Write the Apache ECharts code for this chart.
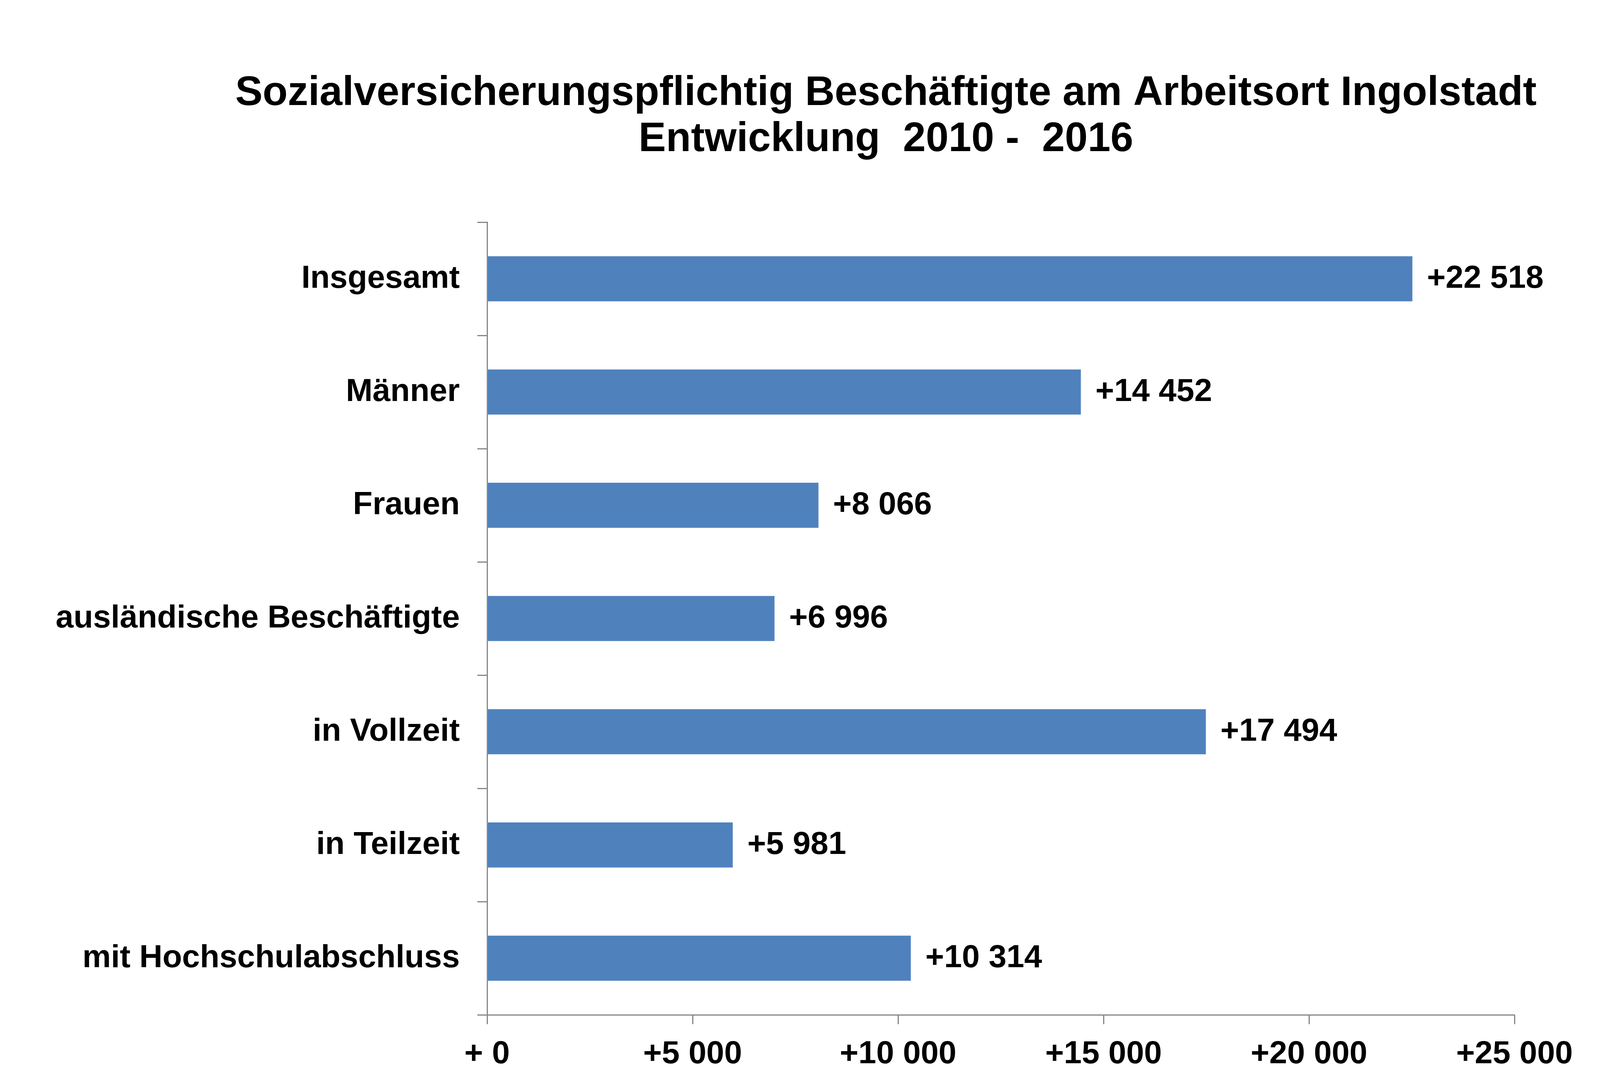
<!DOCTYPE html>
<html>
<head>
<meta charset="utf-8">
<title>Sozialversicherungspflichtig Beschäftigte Ingolstadt</title>
<script src="https://cdn.jsdelivr.net/npm/echarts@6/dist/echarts.min.js"></script>
<style>
  html, body { margin: 0; padding: 0; background: #fff; }
  #main { width: 4252px; height: 2748px; }
</style>
</head>
<body>
<div id="main"></div>
<script>
// Kategorien und Zuwachs 2010 - 2016
var categories = [
  'Insgesamt',
  'Männer',
  'Frauen',
  'ausländische Beschäftigte',
  'in Vollzeit',
  'in Teilzeit',
  'mit Hochschulabschluss'
];
var values = [22518, 14452, 8066, 6996, 17494, 5981, 10314];

var titleLines = [
  'Sozialversicherungspflichtig Beschäftigte am Arbeitsort Ingolstadt',
  'Entwicklung  2010 -  2016'
];

// Tausender mit Leerzeichen trennen
function fmt(n) {
  return String(n).replace(/\B(?=(\d{3})+(?!\d))/g, ' ');
}

var font = 'Liberation Sans, Arial, sans-serif';
var axisGray = '#868686';

var chart = echarts.init(document.getElementById('main'));

var option = {
  backgroundColor: '#ffffff',
  animation: false,
  title: {
    text: titleLines.join('\n'),
    left: 2263,
    textAlign: 'center',
    top: 176,
    textStyle: {
      fontFamily: font,
      fontWeight: 'bold',
      fontSize: 105,
      lineHeight: 118,
      color: '#000'
    }
  },
  grid: {
    left: 1247,
    right: 375,
    top: 569,
    bottom: 149,
    containLabel: false
  },
  xAxis: {
    type: 'value',
    min: 0,
    max: 25000,
    interval: 5000,
    splitLine: { show: false },
    axisLine: { show: true, lineStyle: { color: axisGray, width: 3 } },
    axisTick: { show: true, length: 24, lineStyle: { color: axisGray, width: 3 } },
    axisLabel: {
      margin: 60,
      fontFamily: font,
      fontWeight: 'bold',
      fontSize: 82,
      color: '#000',
      formatter: function (v) {
        return v === 0 ? '+ 0' : '+' + fmt(v);
      }
    }
  },
  yAxis: {
    type: 'category',
    inverse: true,
    data: categories,
    axisLine: { show: true, lineStyle: { color: axisGray, width: 3 } },
    axisTick: { show: true, length: 25, alignWithLabel: false, lineStyle: { color: axisGray, width: 3 } },
    axisLabel: {
      margin: 70,
      fontFamily: font,
      fontWeight: 'bold',
      fontSize: 82,
      color: '#000'
    }
  },
  series: [{
    type: 'bar',
    data: values,
    barWidth: 116,
    itemStyle: {
      color: '#4F81BD',
      borderColor: '#7FA4D3',
      borderWidth: 1
    },
    label: {
      show: true,
      position: 'right',
      distance: 37,
      fontFamily: font,
      fontWeight: 'bold',
      fontSize: 82,
      color: '#000',
      formatter: function (p) {
        return '+' + fmt(p.value);
      }
    }
  }]
};

chart.setOption(option);
</script>
</body>
</html>
